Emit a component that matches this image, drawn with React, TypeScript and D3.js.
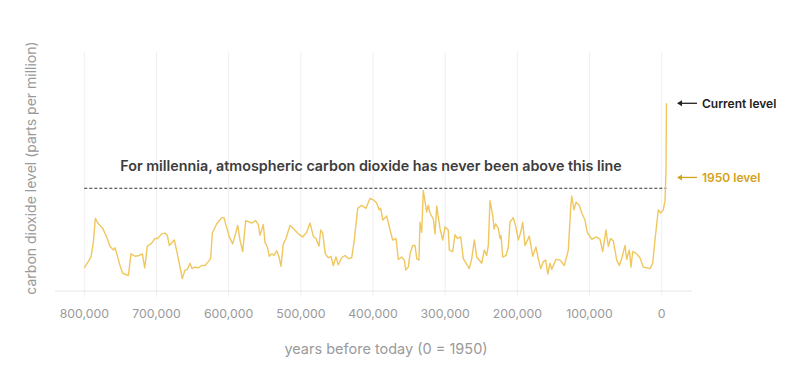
import React from "react";
import * as d3 from "d3";

// years before 1950 (thousands) and CO2 ppm
const yearsK = [
  800, 790.7, 787.5, 784.7, 780.6, 775, 769, 764.4, 759.8, 757.4, 754.3, 750.5, 746.8, 739, 735.3, 729.7, 723.8, 719.6, 716.3, 712.7,
  707.6, 702, 698.3, 692.8, 688.2, 685, 682.2, 675.3, 671.1, 667.4, 664.2, 660.5, 657.3, 653.5, 650.8, 646.6, 642, 637.3, 632.8, 628.2,
  624.9, 622.6, 616.5, 609.6, 606.4, 603.6, 599.1, 594.4, 591.2, 587.5, 584.3, 580.5, 576.4, 568.1, 562.5, 558.9, 556.6, 552, 549.6, 546.4,
  543.7, 540.3, 537.2, 533.4, 530.2, 527.5, 524.3, 520.5, 515, 510.4, 503.5, 497.4, 491.9, 487.3, 482.7, 479, 474.8, 472.5, 469.7, 466.1,
  461.9, 458.2, 455, 451.3, 448.1, 443.4, 438.8, 434.2, 429.5, 425.9, 421.2, 415.7, 409.7, 404.1, 399.6, 394.9, 391.3, 389.3, 386.5, 381,
  376.4, 372.7, 368.1, 364.9, 360.2, 356.6, 354.7, 351.1, 348.7, 345, 341.8, 339.4, 336.3, 334.9, 332.5, 330.3, 325.6, 323.4, 321, 316.4,
  314.1, 311.7, 307.2, 303.4, 300.2, 295.7, 294.3, 289.6, 286.4, 283.2, 278.5, 274.9, 266.6, 263.2, 259.6, 256.3, 249.4, 245.8, 242.5, 240.2,
  237.9, 234.1, 232.3, 230, 226.4, 224, 222.6, 220.3, 215.7, 212.5, 210.2, 205.6, 202.3, 198.7, 195.4, 192.6, 189.4, 183.4, 178.7, 174.2,
  171, 167.6, 164, 160.7, 157.9, 154.8, 152.4, 146.4, 140.9, 134.9, 129.4, 126.1, 124.7, 121.5, 118.7, 114.2, 110.8, 106.3, 103.1, 97,
  90.1, 85.5, 81.7, 77.2, 74, 70.7, 67.1, 62.3, 58.7, 55.4, 50.8, 48.5, 44.9, 42.5, 40.2, 35.6, 30.1, 25.5, 16.2, 12.5,
  9.3, 4.7, 1.4, -2.2, -4.6, -6.0, -6.6,
];
const ppm = [
  197, 211, 230, 261, 254, 249, 237, 225, 220, 223, 213, 200, 190, 187, 215, 212, 213, 215, 197, 225,
  228, 235, 235, 241, 242, 239, 226, 233, 215, 198, 183, 194, 195, 203, 196, 198, 197, 200, 200, 205,
  209, 242, 254, 262, 262, 252, 237, 228, 239, 252, 233, 218, 258, 255, 258, 253, 239, 253, 230, 224,
  212, 215, 213, 219, 211, 199, 228, 235, 252, 248, 241, 237, 243, 255, 238, 235, 225, 246, 242, 215,
  210, 212, 200, 211, 201, 210, 213, 209, 210, 233, 274, 278, 274, 287, 285, 281, 272, 274, 259, 264,
  246, 233, 235, 208, 211, 207, 194, 198, 215, 226, 226, 209, 207, 256, 243, 297, 269, 278, 268, 260,
  241, 277, 248, 233, 250, 246, 220, 218, 240, 235, 237, 209, 196, 209, 233, 211, 203, 220, 213, 226,
  284, 265, 247, 254, 248, 235, 239, 211, 213, 224, 256, 262, 251, 233, 243, 256, 226, 238, 212, 224,
  209, 196, 205, 207, 189, 203, 195, 208, 207, 200, 220, 274, 290, 272, 282, 278, 268, 259, 243, 234,
  237, 234, 218, 246, 225, 235, 232, 207, 200, 209, 226, 208, 220, 198, 218, 216, 210, 198, 196, 203,
  233, 272, 268, 272, 284, 323, 410,
];
const xTicks = [800000, 700000, 600000, 500000, 400000, 300000, 200000, 100000, 0];
const thresholdPpm = 300;
const currentPpm = 410;
const level1950Ppm = 314;
const annotation = "For millennia, atmospheric carbon dioxide has never been above this line";
const xTitle = "years before today (0 = 1950)";
const yTitle = "carbon dioxide level (parts per million)";
const currentLabel = "Current level";
const label1950 = "1950 level";

const W = 800;
const H = 383;
const FONT = "Inter, 'Noto Sans', sans-serif";

export default function App() {
  const x = d3.scaleLinear().domain([800000, 0]).range([84.3, 661.7]);
  const y = d3.scaleLinear().domain([167, 479]).range([291, 50]);
  const data = yearsK.map((k, i) => ({ year: k * 1000, v: ppm[i] }));
  const line = d3
    .line<{ year: number; v: number }>()
    .x((d) => x(d.year))
    .y((d) => y(d.v))
    .curve(d3.curveLinear);
  const fmt = d3.format(",");
  const gridTop = 52;
  const baseY = 291;
  const lastX = x(data[data.length - 1].year);

  const arrow = (yy: number, color: string) => (
    <g>
      <line x1={697} x2={680} y1={yy} y2={yy} stroke={color} strokeWidth={1.3} />
      <path d={`M677,${yy} L682,${yy - 3} L682,${yy + 3} Z`} fill={color} />
    </g>
  );

  return (
    <svg
      width={W}
      height={H}
      style={{ position: "absolute", left: 0, top: 0, background: "#fff" }}
      fontFamily={FONT}
    >
      {xTicks.map((t) => (
        <line key={"g" + t} x1={x(t)} x2={x(t)} y1={gridTop} y2={297} stroke="#efefef" strokeWidth={1} />
      ))}
      <line x1={55} x2={692} y1={baseY} y2={baseY} stroke="#e6e6e6" strokeWidth={1} />
      {xTicks.map((t) => (
        <text key={"t" + t} x={x(t)} y={313.3} textAnchor="middle" dominantBaseline="central" fontSize={12.3} fill="#9a9a9a">
          {fmt(t)}
        </text>
      ))}
      <text x={386} y={348.5} textAnchor="middle" dominantBaseline="central" fontSize={14.5} fill="#9a9a9a">
        {xTitle}
      </text>
      <text
        transform={`translate(30,168) rotate(-90)`}
        textAnchor="middle"
        dominantBaseline="central"
        fontSize={14}
        fill="#9a9a9a"
      >
        {yTitle}
      </text>
      <text x={371} y={165} textAnchor="middle" dominantBaseline="central" fontSize={14.3} fontWeight={600} fill="#3d3d3d">
        {annotation}
      </text>
      <line
        x1={x(800000)}
        x2={lastX}
        y1={y(thresholdPpm)}
        y2={y(thresholdPpm)}
        stroke="#333"
        strokeWidth={1}
        strokeDasharray="3,2"
      />
      <path d={line(data) || ""} fill="none" stroke="#f0c75e" strokeWidth={1.4} strokeLinejoin="round" />
      {arrow(y(currentPpm), "#222")}
      {arrow(y(level1950Ppm), "#d4a21c")}
      <text x={702} y={y(currentPpm)} dominantBaseline="central" fontSize={12} fontWeight={600} fill="#222">
        {currentLabel}
      </text>
      <text x={702} y={y(level1950Ppm)} dominantBaseline="central" fontSize={12} fontWeight={600} fill="#d4a21c">
        {label1950}
      </text>
    </svg>
  );
}
